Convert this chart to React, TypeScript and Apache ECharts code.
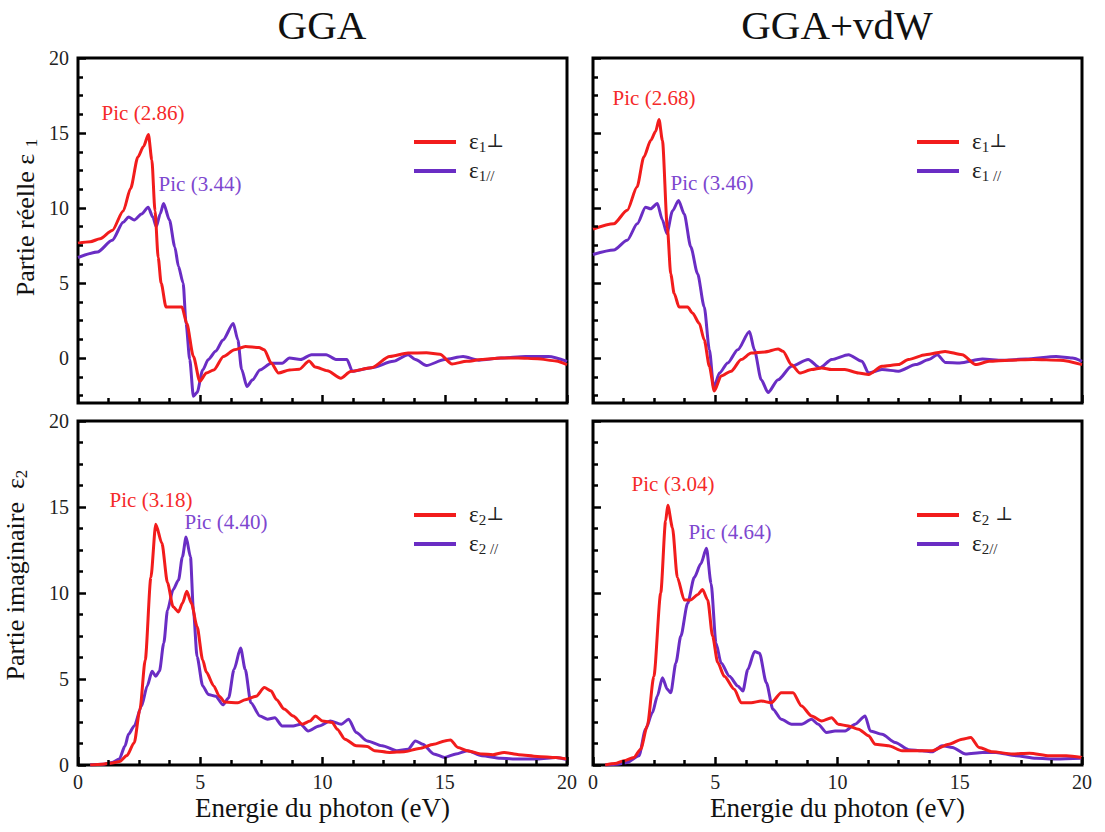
import React, { useEffect, useRef } from 'react';
import * as echarts from 'echarts';

// ---------- data ----------
const X_TICKS = [0, 5, 10, 15, 20];
const Y_TICKS = [0, 5, 10, 15, 20];
const Y_TOP_MINOR = [-2.5, -1.25, 1.25, 2.5, 3.75, 6.25, 7.5, 8.75, 11.25, 12.5, 13.75, 16.25, 17.5, 18.75];

const TITLES = ['GGA', 'GGA+vdW'];
const PEAK_LABELS = ['Pic (2.86)', 'Pic (3.44)', 'Pic (2.68)', 'Pic (3.46)', 'Pic (3.18)', 'Pic (4.40)', 'Pic (3.04)', 'Pic (4.64)'];

// GGA, real part
const ggaE1Perp = [[0,7.65],[0.5,7.75],[0.9,7.95],[1.4,8.5],[1.85,9.8],[2.15,11.3],[2.45,13.4],[2.68,14.1],[2.88,14.9],[3.02,13.2],[3.15,9.8],[3.28,6.7],[3.4,5.0],[3.6,3.4],[4.25,3.4],[4.45,2.3],[4.72,0.1],[4.98,-1.55],[5.25,-1.0],[5.55,-0.8],[5.95,0.1],[6.4,0.55],[6.85,0.77],[7.4,0.7],[7.62,0.55],[7.9,-0.33],[8.2,-1.0],[8.65,-0.8],[9.05,-0.75],[9.45,-0.2],[9.7,-0.6],[10.2,-0.85],[10.75,-1.35],[11.15,-0.9],[12.0,-0.65],[12.75,0.1],[13.5,0.33],[14.25,0.35],[14.8,0.25],[15.3,-0.4],[15.9,-0.22],[16.5,-0.1],[17.3,0.0],[18.0,0.0],[18.8,-0.05],[19.55,-0.2],[20,-0.45]];
const ggaE1Par = [[0,6.7],[0.8,7.07],[1.4,7.85],[1.85,9.05],[2.07,9.4],[2.3,9.2],[2.6,9.6],[2.87,10.05],[3.06,9.4],[3.2,8.75],[3.36,9.6],[3.5,10.3],[3.74,9.2],[3.96,7.4],[4.11,6.1],[4.3,5.0],[4.42,2.3],[4.57,-0.1],[4.72,-2.55],[4.87,-2.3],[5.1,-0.8],[5.33,-0.1],[5.63,0.45],[5.93,1.2],[6.35,2.3],[6.54,1.2],[6.69,-0.75],[6.91,-1.9],[7.14,-1.45],[7.44,-0.8],[7.9,-0.35],[8.35,-0.35],[8.65,0.0],[9.1,-0.1],[9.55,0.22],[10.15,0.22],[10.55,-0.1],[11.0,-0.1],[11.22,-0.88],[12.0,-0.65],[12.9,-0.22],[13.5,0.22],[13.8,-0.1],[14.25,-0.5],[15.0,-0.1],[15.75,0.1],[16.4,-0.15],[17.3,0.0],[18.3,0.1],[19.25,0.1],[20,-0.22]];

// GGA+vdW, real part
const vdwE1Perp = [[0,8.6],[0.85,8.95],[1.4,9.85],[1.8,11.4],[2.08,13.4],[2.36,14.5],[2.56,15.1],[2.7,15.9],[2.84,14.5],[3.04,8.7],[3.18,5.6],[3.32,4.3],[3.52,3.4],[3.87,3.4],[4.07,3.0],[4.35,2.3],[4.55,1.2],[4.76,-0.55],[4.96,-2.2],[5.24,-1.2],[5.65,-0.88],[6.06,-0.1],[6.47,0.33],[7.02,0.4],[7.57,0.6],[7.77,0.45],[8.12,-0.45],[8.46,-1.0],[8.94,-0.77],[9.35,-0.66],[9.76,-0.77],[10.3,-0.77],[10.86,-1.0],[11.27,-1.1],[11.82,-0.55],[12.5,-0.44],[12.9,-0.1],[13.6,0.22],[14.4,0.44],[15.1,0.22],[15.65,-0.44],[16.2,-0.22],[17.0,-0.15],[18.0,-0.1],[19.1,-0.15],[20,-0.44]];
const vdwE1Par = [[0,6.9],[0.85,7.2],[1.4,7.85],[1.81,8.95],[2.15,10.05],[2.36,9.95],[2.63,10.3],[2.84,9.2],[3.02,8.3],[3.25,9.8],[3.5,10.5],[3.73,9.6],[4.0,7.4],[4.28,5.6],[4.55,3.4],[4.76,0.55],[4.94,-2.0],[5.17,-1.0],[5.51,-0.33],[5.92,0.55],[6.4,1.77],[6.6,0.55],[6.88,-1.45],[7.16,-2.3],[7.57,-1.45],[8.12,-0.55],[8.8,-0.1],[9.28,-0.66],[9.76,-0.1],[10.45,0.22],[11.0,-0.22],[11.27,-1.0],[11.82,-0.77],[12.5,-0.88],[13.2,-0.44],[13.74,-0.1],[14.08,0.22],[14.42,-0.3],[15.0,-0.33],[15.93,-0.07],[16.75,-0.15],[17.7,-0.07],[18.94,0.1],[19.6,0.0],[20,-0.22]];

// GGA, imaginary part
const ggaE2Perp = [[0.5,0],[1.0,0.05],[1.4,0.12],[1.7,0.2],[2.0,0.55],[2.3,1.3],[2.53,3.2],[2.75,6.1],[2.98,10.9],[3.18,14.0],[3.43,12.9],[3.66,10.6],[3.89,9.2],[4.11,8.9],[4.27,9.4],[4.45,10.1],[4.64,9.4],[4.87,8.05],[5.1,6.1],[5.25,5.4],[5.55,4.6],[5.78,4.0],[6.0,3.66],[6.54,3.62],[6.84,3.8],[7.29,4.0],[7.62,4.5],[7.9,4.3],[8.12,3.8],[8.43,3.25],[8.8,2.85],[9.18,2.37],[9.49,2.56],[9.71,2.85],[10.0,2.56],[10.4,2.47],[10.6,2.08],[10.92,1.5],[11.38,1.12],[11.83,1.08],[12.13,0.83],[12.74,0.73],[13.34,0.77],[13.95,0.96],[14.55,1.21],[15.0,1.4],[15.23,1.46],[15.54,1.02],[15.92,0.83],[16.52,0.64],[16.97,0.6],[17.43,0.73],[18.03,0.6],[18.79,0.5],[19.55,0.44],[20,0.35]];
const ggaE2Par = [[0.5,0],[1.0,0.04],[1.4,0.15],[1.69,0.35],[1.92,1.1],[2.07,1.8],[2.3,2.27],[2.6,3.43],[2.83,4.6],[3.03,5.45],[3.18,5.16],[3.33,5.45],[3.51,7.1],[3.66,9.0],[3.89,10.2],[4.11,10.75],[4.27,12.1],[4.42,13.25],[4.6,12.1],[4.72,9.0],[4.87,6.3],[5.1,4.6],[5.33,4.1],[5.63,4.0],[5.93,3.5],[6.16,3.9],[6.38,5.55],[6.65,6.8],[6.84,5.55],[7.07,3.62],[7.44,2.85],[7.75,2.66],[8.05,2.75],[8.35,2.27],[8.8,2.27],[9.1,2.37],[9.41,1.98],[9.86,2.27],[10.32,2.56],[10.77,2.37],[11.07,2.66],[11.38,1.89],[11.83,1.4],[12.44,1.12],[13.04,0.83],[13.5,0.92],[13.8,1.4],[14.1,1.21],[14.55,0.64],[15.0,0.44],[15.46,0.64],[15.92,0.83],[16.52,0.54],[17.28,0.39],[18.03,0.35],[18.79,0.35],[19.55,0.44],[20,0.31]];

// GGA+vdW, imaginary part
const vdwE2Perp = [[0.5,0],[0.9,0.08],[1.26,0.25],[1.67,0.44],[1.95,0.92],[2.22,2.27],[2.49,5.16],[2.77,10.0],[2.97,14.2],[3.06,15.1],[3.25,13.8],[3.45,10.9],[3.73,9.6],[4.0,9.6],[4.28,9.9],[4.48,10.2],[4.69,9.6],[4.89,7.5],[5.1,5.96],[5.37,5.16],[5.78,4.4],[6.06,3.62],[6.47,3.62],[6.88,3.72],[7.29,3.62],[7.7,4.2],[8.18,4.2],[8.53,3.43],[8.94,2.85],[9.35,2.56],[9.76,2.75],[10.03,2.37],[10.45,2.27],[10.86,2.08],[11.27,1.7],[11.54,1.21],[12.09,1.12],[12.64,0.83],[13.19,0.83],[13.87,0.83],[14.56,1.21],[15.1,1.5],[15.45,1.6],[15.79,1.02],[16.34,0.77],[17.16,0.64],[17.85,0.69],[18.67,0.54],[19.36,0.54],[20,0.44]];
const vdwE2Par = [[0.5,0],[1.0,0.05],[1.4,0.15],[1.88,0.54],[2.15,2.08],[2.43,3.04],[2.63,4.0],[2.84,5.07],[3.04,4.4],[3.18,4.2],[3.39,5.93],[3.59,7.48],[3.87,9.4],[4.14,10.9],[4.41,11.7],[4.64,12.6],[4.83,10.55],[5.03,7.1],[5.24,5.93],[5.58,5.16],[5.92,4.6],[6.13,4.3],[6.33,5.55],[6.61,6.6],[6.81,6.5],[7.09,4.78],[7.36,3.24],[7.7,2.66],[8.12,2.37],[8.53,2.37],[8.94,2.66],[9.21,2.37],[9.55,1.89],[9.9,1.98],[10.31,1.98],[10.72,2.37],[11.13,2.85],[11.34,1.98],[11.82,1.79],[12.36,1.31],[12.91,0.89],[13.46,0.83],[13.87,0.77],[14.28,1.12],[14.7,1.02],[15.24,0.64],[15.93,0.73],[16.48,0.73],[17.3,0.54],[18.12,0.39],[18.94,0.35],[20,0.39]];

// ---------- styling ----------
const SERIF = 'Liberation Serif';
const RED = '#f21c1c';
const PURPLE = '#6a2dc4';
const RED_TXT = '#f52a2a';
const PURPLE_TXT = '#7d47cf';

const GRIDS = [
  { left: 78, top: 58, width: 489, height: 345 },
  { left: 593, top: 58, width: 489, height: 345 },
  { left: 78, top: 421, width: 489, height: 344 },
  { left: 593, top: 421, width: 489, height: 344 },
];

const LEGEND_TEXT: Record<string, string> = {
  e1perp_gga: '{e|ε}{s|1}{p|⊥}',
  e1par_gga: '{e|ε}{s|1//}',
  e1perp_vdw: '{e|ε}{s|1}{p|⊥}',
  e1par_vdw: '{e|ε}{s|1 //}',
  e2perp_gga: '{e|ε}{s|2}{p|⊥}',
  e2par_gga: '{e|ε}{s|2 //}',
  e2perp_vdw: '{e|ε}{s|2}{p| ⊥}',
  e2par_vdw: '{e|ε}{s|2//}',
};

function buildOption() {
  const tickLine = { color: '#000', width: 2.5 };
  const grid = GRIDS.map((g) => ({ ...g, show: true, borderColor: '#000', borderWidth: 3, backgroundColor: 'transparent', z: 0 }));

  const xAxis = GRIDS.map((_, i) => ({
    type: 'value', gridIndex: i, min: 0, max: 20, interval: 5, position: 'bottom', z: 5,
    axisLine: { show: false, onZero: false },
    axisTick: { show: true, inside: true, length: 8, lineStyle: tickLine },
    minorTick: { show: true, splitNumber: 4, length: 5, lineStyle: tickLine },
    splitLine: { show: false }, minorSplitLine: { show: false },
    axisLabel: { show: i >= 2, fontFamily: SERIF, fontSize: 20, color: '#222', margin: 7,
      formatter: (v: number) => (X_TICKS.includes(v) ? String(v) : '') },
    name: i >= 2 ? 'Energie du photon (eV)' : '',
    nameLocation: 'middle', nameGap: 29,
    nameTextStyle: { fontFamily: SERIF, fontSize: 27, color: '#111' },
  }));

  const nameRich = {
    n: { fontFamily: SERIF, fontSize: 26, color: '#111', lineHeight: 30 },
    s: { fontFamily: SERIF, fontSize: 17, color: '#111', lineHeight: 18, verticalAlign: 'bottom' },
  };

  const yAxis: any[] = [];
  [0, 1].forEach((i) => {
    yAxis.push({
      type: 'value', gridIndex: i, min: -3, max: 20, position: 'left', z: 5,
      axisLine: { show: false, onZero: false },
      axisTick: { show: true, inside: true, length: 8, lineStyle: tickLine, customValues: Y_TICKS },
      axisLabel: { show: i === 0, fontFamily: SERIF, fontSize: 20, color: '#222', margin: 9, customValues: Y_TICKS },
      splitLine: { show: false },
      name: i === 0 ? '{n|Partie réelle ε }{s|1}' : '',
      nameLocation: 'middle', nameGap: 38,
      nameTextStyle: { fontFamily: SERIF, fontSize: 26, rich: nameRich, padding: [0, 0, 0, 26] },
    });
    yAxis.push({
      type: 'value', gridIndex: i, min: -3, max: 20, position: 'left', z: 5,
      axisLine: { show: false, onZero: false },
      axisTick: { show: true, inside: true, length: 5, lineStyle: tickLine, customValues: Y_TOP_MINOR },
      axisLabel: { show: false },
      splitLine: { show: false },
    });
  });
  [2, 3].forEach((i) => {
    yAxis.push({
      type: 'value', gridIndex: i, min: 0, max: 20, interval: 5, position: 'left', z: 5,
      axisLine: { show: false, onZero: false },
      axisTick: { show: true, inside: true, length: 8, lineStyle: tickLine },
      minorTick: { show: true, splitNumber: 4, length: 5, lineStyle: tickLine },
      splitLine: { show: false }, minorSplitLine: { show: false },
      axisLabel: { show: i === 2, fontFamily: SERIF, fontSize: 20, color: '#222', margin: 9 },
      name: i === 2 ? '{n|Partie imaginaire  ε}{s|2}' : '',
      nameLocation: 'middle', nameGap: 48,
      nameTextStyle: { fontFamily: SERIF, fontSize: 26, rich: nameRich, padding: [0, 0, 0, 36] },
    });
  });

  const yIdx = [0, 2, 4, 5];
  const panels = [
    { perp: ggaE1Perp, par: ggaE1Par, names: ['e1perp_gga', 'e1par_gga'] },
    { perp: vdwE1Perp, par: vdwE1Par, names: ['e1perp_vdw', 'e1par_vdw'] },
    { perp: ggaE2Perp, par: ggaE2Par, names: ['e2perp_gga', 'e2par_gga'] },
    { perp: vdwE2Perp, par: vdwE2Par, names: ['e2perp_vdw', 'e2par_vdw'] },
  ];

  const series: any[] = [];
  panels.forEach((p, i) => {
    [[p.par, PURPLE, p.names[1]], [p.perp, RED, p.names[0]]].forEach(([data, color, name]: any) => {
      series.push({
        type: 'line', name, xAxisIndex: i, yAxisIndex: yIdx[i], data,
        symbol: 'none', showSymbol: false, smooth: 0.25, smoothMonotone: 'x',
        color, lineStyle: { width: 3, color }, clip: true, z: 3,
      });
    });
  });

  const legendRich = {
    e: { fontFamily: SERIF, fontSize: 23, color: '#222', lineHeight: 24, verticalAlign: 'top', padding: [0, 0, 0, 8] },
    s: { fontFamily: SERIF, fontSize: 15, color: '#222', lineHeight: 14, verticalAlign: 'bottom' },
    p: { fontFamily: 'DejaVu Serif', fontSize: 19, color: '#222', lineHeight: 24, verticalAlign: 'top' },
  };
  const legendPos = [
    { left: 414, top: 130 },
    { left: 917, top: 130 },
    { left: 414, top: 503 },
    { left: 917, top: 503 },
  ];
  const legend = panels.map((p, i) => ({
    ...legendPos[i], orient: 'vertical', padding: 0, itemGap: 5,
    icon: 'rect', itemWidth: 42, itemHeight: 4,
    data: p.names, selectedMode: false,
    formatter: (name: string) => LEGEND_TEXT[name],
    textStyle: { fontFamily: SERIF, fontSize: 23, rich: legendRich },
  }));

  const annPos = [
    [143, 113, RED_TXT], [200, 184, PURPLE_TXT],
    [654, 98, RED_TXT], [712, 183, PURPLE_TXT],
    [151, 500, RED_TXT], [226, 522, PURPLE_TXT],
    [673, 484, RED_TXT], [730, 532, PURPLE_TXT],
  ];
  const graphic: any[] = [
    { type: 'text', x: 322, y: 25, style: { text: TITLES[0], fontFamily: SERIF, fontSize: 41, fill: '#111', align: 'center', verticalAlign: 'middle' } },
    { type: 'text', x: 837, y: 25, style: { text: TITLES[1], fontFamily: SERIF, fontSize: 41, fill: '#111', align: 'center', verticalAlign: 'middle' } },
    ...PEAK_LABELS.map((t, k) => ({
      type: 'text', x: annPos[k][0], y: annPos[k][1], z: 10,
      style: { text: t, fontFamily: SERIF, fontSize: 21, fill: annPos[k][2], align: 'center', verticalAlign: 'middle' },
    })),
  ];

  return { animation: false, backgroundColor: '#fff', grid, xAxis, yAxis, series, legend, graphic };
}

export default function App() {
  const ref = useRef<HTMLDivElement>(null);
  useEffect(() => {
    document.body.style.margin = '0';
    const chart = echarts.init(ref.current!, null, { renderer: 'svg' });
    chart.setOption(buildOption() as any);
    return () => chart.dispose();
  }, []);
  return <div ref={ref} style={{ width: 1105, height: 832 }} />;
}
